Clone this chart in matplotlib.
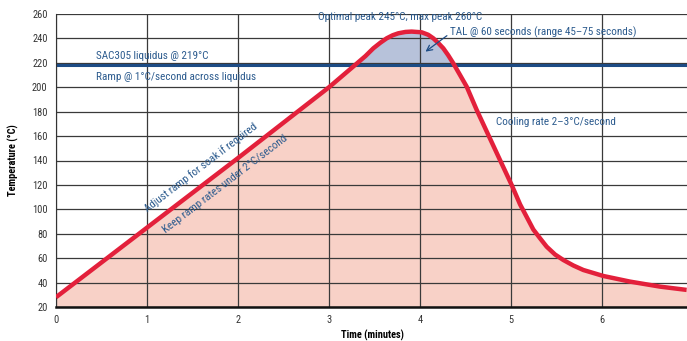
import numpy as np
import matplotlib
matplotlib.use("Agg")
import matplotlib.pyplot as plt

plt.rcParams['font.family'] = ['Roboto Condensed', 'Liberation Sans Narrow', 'DejaVu Sans']

# reflow profile
time_min = [0, 1, 2, 3, 3.286, 3.40, 3.487, 3.565, 3.634, 3.70, 3.762, 3.84, 3.908,
            4.019, 4.09, 4.146, 4.20, 4.256, 4.31, 4.366, 4.44, 4.513, 4.623,
            4.751, 4.879, 5.007, 5.10, 5.19, 5.245, 5.322, 5.392, 5.484, 5.575,
            5.685, 5.795, 6.015, 6.308, 6.637, 6.93]
temp_c = [28, 85, 142, 200, 218.2, 225.5, 231.9, 236.5, 240.1, 242.6, 244.2, 245.3, 245.6,
          245, 243, 240.1, 236.3, 231.9, 226.2, 219.6, 210, 200.5, 181.4,
          160.9, 140.4, 120, 104, 91.3, 83.5, 76, 69.4, 63, 58.5,
          54, 50.3, 45.4, 40.8, 36.7, 34]
liquidus = 218
x_ticks = [0, 1, 2, 3, 4, 5, 6]
y_ticks = list(range(20, 261, 20))

red = '#e3203b'
navy = '#1d4c85'
txt = '#2c5b8e'
pink = '#f8d1c7'
lilac = '#b7c2da'

t = np.array(time_min)
T = np.array(temp_c)

fig = plt.figure(figsize=(6.87, 3.41), dpi=100)
ax = fig.add_axes([56/687, 34/341, 631/687, 293/341])

ax.fill_between(t, 20, np.minimum(T, liquidus), color=pink, lw=0, zorder=0.5)
ax.fill_between(t, liquidus, T, where=T >= liquidus, color=lilac, lw=0, zorder=0.5)

ax.axhline(liquidus, color=navy, lw=2.2, zorder=2)
ax.plot(t, T, color=red, lw=3.2, solid_joinstyle='round', solid_capstyle='butt', zorder=3)

ax.set_xlim(0, 6.934)
ax.set_ylim(20, 260)
ax.set_xticks(x_ticks)
ax.set_yticks(y_ticks)
ax.grid(True, color='#3a3a3a', lw=0.9)
ax.tick_params(length=0, labelsize=7.5, colors='#333333', pad=6)
for s in ['top', 'right']:
    ax.spines[s].set_visible(False)
ax.spines['left'].set_color('#333333')
ax.spines['bottom'].set_color('#111111')
ax.spines['bottom'].set_linewidth(1.8)

ax.set_ylabel('Temperature (°C)', fontsize=7.5, fontweight='bold')
ax.yaxis.set_label_coords(-0.059, 0.5)
ax.set_xlabel('Time (minutes)', fontsize=7.5, fontweight='bold')
ax.xaxis.set_label_coords(0.502, -0.079)

fs = 8
ax.text(0.44, 225.6, 'SAC305 liquidus @ 219°C', color=txt, fontsize=fs, va='center', zorder=4)
ax.text(0.44, 208.4, 'Ramp @ 1°C/second across liquidus', color=txt, fontsize=fs, va='center', zorder=4)
ax.text(2.876, 257.8, 'Optimal peak 245°C; max peak 260°C', color=txt, fontsize=fs, va='center', zorder=4)
ax.text(4.33, 245, 'TAL @ 60 seconds (range 45–75 seconds)', color=txt, fontsize=fs, va='center', zorder=4)
ax.text(4.835, 171.8, 'Cooling rate 2–3°C/second', color=txt, fontsize=fs, va='center', zorder=4)
ax.annotate('', xy=(4.036, 227.8), xytext=(4.32, 243.6),
            arrowprops=dict(arrowstyle='->', color=navy, lw=0.9), zorder=4)
ax.text(1.587, 134.8, 'Adjust ramp for soak if required', color=txt, fontsize=fs,
        rotation=37.5, rotation_mode='anchor', ha='center', va='center', zorder=4)
ax.text(1.86, 120.6, 'Keep ramp rates under 2°C/second', color=txt, fontsize=fs,
        rotation=37.5, rotation_mode='anchor', ha='center', va='center', zorder=4)

fig.savefig('out.png', dpi=100)
